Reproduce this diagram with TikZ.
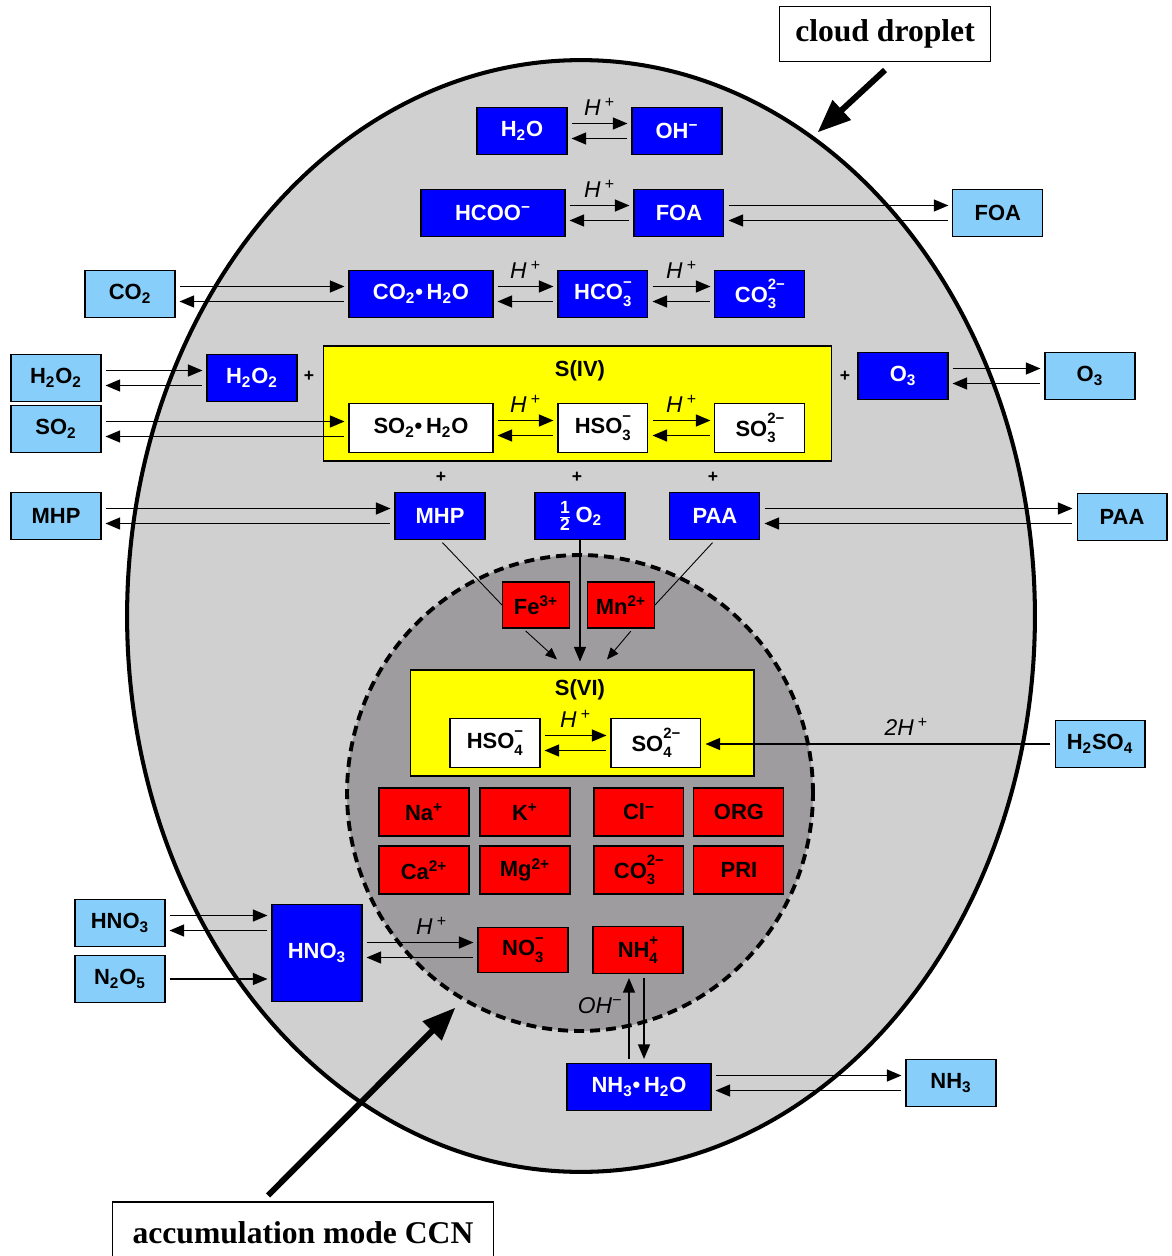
\documentclass[tikz,border=0pt]{standalone}
\usepackage{fontspec}
\setmainfont{Liberation Sans}
\newfontfamily\labelserif{Liberation Serif}
\usepackage{xcolor}
\usepackage{tikz}
\usetikzlibrary{positioning}
\usetikzlibrary{shapes,arrows}

\definecolor{aqblue}{RGB}{0,0,255}
\definecolor{gasblue}{RGB}{135,206,250}
\definecolor{ccnred}{RGB}{255,0,0}
\definecolor{sulfyellow}{RGB}{255,255,0}
\definecolor{dropgray}{RGB}{208,208,208}
\definecolor{coregray}{RGB}{158,156,158}

\newcommand{\boxfont}{\fontsize{12.5}{14}\selectfont\bfseries}
\newcommand{\chion}[2]{\rlap{\raisebox{-0.55ex}{\fontsize{8.5}{9}\selectfont #1}}\raisebox{1.05ex}{\fontsize{8.5}{9}\selectfont #2}}
\newcommand{\hplus}{\textit{H}\,\textsuperscript{+}}
\newcommand{\halfo}{$\frac{\mbox{\fontsize{10}{10}\selectfont 1}}{\mbox{\fontsize{10}{10}\selectfont 2}}$\,}

\tikzset{%
  box/.style      = {draw, rectangle, line width=0.6pt, inner sep=0pt,
    minimum width=1.8cm, minimum height=0.94cm, font=\boxfont},
  aq/.style       = {box, fill=aqblue, text=white}, % in the droplet
  gas/.style      = {box, fill=gasblue}, % gas phase
  ccn/.style      = {box, fill=ccnred, minimum height=0.96cm}, % in the particle
  ion/.style      = {box, fill=white, minimum height=0.98cm}, % sulphur species
  wide/.style     = {minimum width=2.88cm},
  sbox/.style     = {draw, rectangle, line width=0.6pt, fill=sulfyellow},
  plus/.style     = {font=\bfseries\fontsize{10}{10}\selectfont},
  hlab/.style     = {above, yshift=1pt, font=\fontsize{13}{14}\selectfont\itshape},
  fwd/.style      = {->, shorten <=2.3pt, shorten >=2.3pt,
    transform canvas={yshift=0.15cm}},
  bwd/.style      = {<-, shorten <=2.3pt, shorten >=2.3pt,
    transform canvas={yshift=-0.15cm}},
  one/.style      = {->, shorten <=2.3pt, shorten >=2.3pt},
  cat/.style      = {line width=0.5pt, shorten <=2pt},
  drop/.style     = {draw, fill=dropgray, line width=2.3pt},
  core/.style     = {draw, fill=coregray, line width=2.2pt,
    dash pattern=on 0.2cm off 0.12cm},
  callout/.style  = {draw, rectangle, line width=0.6pt, fill=white, inner sep=0pt,
    font=\labelserif\bfseries\fontsize{18}{20}\selectfont},
  bigarrow/.style = {->, line width=3.4pt}
}

\begin{document}
\begin{tikzpicture}[x=0.02cm, y=-0.02cm, line width=0.9pt, >=triangle 45]

  \useasboundingbox (0,0) rectangle (1171,1256);

  % droplet and particle
  \draw[drop] (581,616) ellipse (9.08cm and 11.12cm);
  \draw[core] (580,793) ellipse (4.66cm and 4.76cm);

  % sulphur groups
  \draw node at (577.5,403.5) [sbox, minimum width=10.18cm, minimum height=2.3cm] (siv) {};
  \draw node at (580,371) [font=\boxfont] (sivlab) {S(IV)};
  \draw node at (582,723) [sbox, minimum width=6.88cm, minimum height=2.12cm] (svi) {};
  \draw node at (580,690) [font=\boxfont] (svilab) {S(VI)};

  \draw node at (522,131) [aq] (h2o) {H\textsubscript{2}O};
  \draw node [aq, right of=h2o, node distance=3.1cm] (oh) {OH\textsuperscript{−}};

  \draw node at (493,213) [aq, wide] (hcoo) {HCOO\textsuperscript{−}};
  \draw node [aq, right of=hcoo, node distance=3.72cm] (foa) {FOA};
  \draw node [gas, right of=foa, node distance=6.38cm] (foag) {FOA};

  \draw node at (130,294) [gas] (co2g) {CO\textsubscript{2}};
  \draw node at (421,294) [aq, wide] (co2aq) {CO\textsubscript{2}•\,H\textsubscript{2}O};
  \draw node [aq, right of=co2aq, node distance=3.64cm] (hco3) {HCO\chion{3}{−}};
  \draw node [aq, right of=hco3, node distance=3.14cm] (co3) {CO\chion{3}{2−}};

  \draw node at (56,378) [gas] (h2o2g) {H\textsubscript{2}O\textsubscript{2}};
  \draw node at (252,378) [aq] (h2o2) {H\textsubscript{2}O\textsubscript{2}};
  \draw node at (903,376) [aq] (o3) {O\textsubscript{3}};
  \draw node [gas, right of=o3, node distance=3.74cm] (o3g) {O\textsubscript{3}};

  \draw node at (56,429) [gas] (so2g) {SO\textsubscript{2}};
  \draw node at (421,428) [ion, wide] (so2aq) {SO\textsubscript{2}•\,H\textsubscript{2}O};
  \draw node [ion, right of=so2aq, node distance=3.64cm] (hso3) {HSO\chion{3}{−}};
  \draw node [ion, right of=hso3, node distance=3.14cm] (so3) {SO\chion{3}{2−}};

  \draw node at (56,516) [gas] (mhpg) {MHP};
  \draw node at (440,516) [aq] (mhp) {MHP};
  \draw node [aq, right of=mhp, node distance=2.8cm] (ox) {\halfo O\textsubscript{2}};
  \draw node [aq, right of=ox, node distance=2.7cm] (paa) {PAA};
  \draw node at (1122,517) [gas] (paag) {PAA};

  \draw node at (309,376) [plus] (plusa) {+};
  \draw node at (845,376) [plus] (plusb) {+};
  \draw node at (441,477) [plus] (plusc) {+};
  \draw node at (577,477) [plus] (plusd) {+};
  \draw node at (713,477) [plus] (pluse) {+};

  % particle
  \draw node at (536,605) [ccn, minimum width=1.34cm, minimum height=0.92cm] (fe) {Fe\textsuperscript{3+}};
  \draw node [ccn, minimum width=1.34cm, minimum height=0.92cm, right of=fe, node distance=1.7cm] (mn) {Mn\textsuperscript{2+}};

  \draw node at (495,743) [ion] (hso4) {HSO\chion{4}{−}};
  \draw node [ion, right of=hso4, node distance=3.22cm] (so4) {SO\chion{4}{2−}};
  \draw node at (1100,744) [gas] (h2so4g) {H\textsubscript{2}SO\textsubscript{4}};

  \draw node at (424,812) [ccn] (na) {Na\textsuperscript{+}};
  \draw node [ccn, right of=na, node distance=2.02cm] (k) {K\textsuperscript{+}};
  \draw node [ccn, right of=k, node distance=2.28cm] (cl) {Cl\textsuperscript{−}};
  \draw node [ccn, right of=cl, node distance=2cm] (org) {ORG};
  \draw node [ccn, below of=na, node distance=1.16cm] (ca) {Ca\textsuperscript{2+}};
  \draw node [ccn, below of=k, node distance=1.16cm] (mg) {Mg\textsuperscript{2+}};
  \draw node [ccn, below of=cl, node distance=1.16cm] (co3p) {CO\chion{3}{2−}};
  \draw node [ccn, below of=org, node distance=1.16cm] (pri) {PRI};

  \draw node at (120,923) [gas] (hno3g) {HNO\textsubscript{3}};
  \draw node [gas, below of=hno3g, node distance=1.12cm] (n2o5g) {N\textsubscript{2}O\textsubscript{5}};
  \draw node at (317,953) [aq, minimum height=1.94cm] (hno3) {HNO\textsubscript{3}};
  \draw node at (523,950) [ccn, minimum height=0.9cm] (no3) {NO\chion{3}{−}};
  \draw node [ccn, minimum height=0.94cm, right of=no3, node distance=2.3cm] (nh4) {NH\chion{4}{+}};
  \draw node at (639,1087) [aq, wide] (nh3aq) {NH\textsubscript{3}•\,H\textsubscript{2}O};
  \draw node at (951,1083) [gas] (nh3g) {NH\textsubscript{3}};

  \draw node at (885,34) [callout, minimum width=4.22cm, minimum height=1.1cm] (cloud) {cloud droplet};
  \draw node at (303,1233) [callout, minimum width=7.64cm, minimum height=1.24cm] (accum) {accumulation mode CCN};

  % equilibria
  \draw[fwd] (h2o) -- node[hlab] {\hplus} (oh);
  \draw[bwd] (h2o) -- (oh);
  \draw[fwd] (hcoo) -- node[hlab] {\hplus} (foa);
  \draw[bwd] (hcoo) -- (foa);
  \draw[fwd] (foa) -- (foa -| foag.west);
  \draw[bwd] (foa) -- (foa -| foag.west);
  \draw[fwd] (co2g) -- (co2g -| co2aq.west);
  \draw[bwd] (co2g) -- (co2g -| co2aq.west);
  \draw[fwd] (co2aq) -- node[hlab] {\hplus} (hco3);
  \draw[bwd] (co2aq) -- (hco3);
  \draw[fwd] (hco3) -- node[hlab] {\hplus} (co3);
  \draw[bwd] (hco3) -- (co3);
  \draw[fwd] (h2o2g) -- (h2o2);
  \draw[bwd] (h2o2g) -- (h2o2);
  \draw[fwd] (so2g) -- (so2g -| so2aq.west);
  \draw[bwd] (so2g) -- (so2g -| so2aq.west);
  \draw[fwd] (so2aq) -- node[hlab] {\hplus} (hso3);
  \draw[bwd] (so2aq) -- (hso3);
  \draw[fwd] (hso3) -- node[hlab] {\hplus} (so3);
  \draw[bwd] (hso3) -- (so3);
  \draw[fwd] (o3) -- (o3g);
  \draw[bwd] (o3) -- (o3g);
  \draw[fwd] (mhpg) -- (mhpg -| mhp.west);
  \draw[bwd] (mhpg) -- (mhpg -| mhp.west);
  \draw[fwd] (paa) -- (paa -| paag.west);
  \draw[bwd] (paa) -- (paa -| paag.west);
  \draw[fwd] (hso4) -- node[hlab] {\hplus} (so4);
  \draw[bwd] (hso4) -- (so4);
  \draw[one] (h2so4g) -- node[hlab, pos=0.42] {2\textit{H}\,\textsuperscript{+}} (h2so4g -| so4.east);
  \draw[fwd] (hno3g) -- (hno3g -| hno3.west);
  \draw[bwd] (hno3g) -- (hno3g -| hno3.west);
  \draw[one] (n2o5g) -- (n2o5g -| hno3.west);
  \draw[fwd] (no3 -| hno3.east) -- node[hlab, pos=0.6] {\hplus} (no3);
  \draw[bwd] (no3 -| hno3.east) -- (no3);
  \draw[one] ([xshift=-0.2cm]nh3aq.north) -- node[left, pos=0.65, font=\fontsize{13}{14}\selectfont\itshape] {OH\textsuperscript{−}} ([xshift=-0.2cm]nh3aq.north |- nh4.south);
  \draw[one, <-] ([xshift=0.1cm]nh3aq.north) -- ([xshift=0.1cm]nh3aq.north |- nh4.south);
  \draw[fwd] (nh3g -| nh3aq.east) -- (nh3g);
  \draw[bwd] (nh3g -| nh3aq.east) -- (nh3g);

  % oxidation in the particle
  \draw[cat] (mhp.south) -- (fe.west);
  \draw[cat] (paa.south) -- (mn.east);
  \draw[cat, ->] ([xshift=-0.26cm]fe.south) -- ([xshift=-0.5cm,yshift=0.2cm]svi.north);
  \draw[cat, ->] ([xshift=0.24cm]mn.south) -- ([xshift=0.5cm,yshift=0.2cm]svi.north);
  \draw[->] (ox.south) -- ([yshift=0.16cm]svi.north -| ox.south);

  \coordinate (droptip) at (818,132);
  \coordinate (ccntip) at (455,1008);
  \draw[bigarrow] ([yshift=-0.16cm]cloud.south) -- (droptip);
  \draw[bigarrow] ([xshift=-0.7cm,yshift=0.12cm]accum.north) -- (ccntip);

\end{tikzpicture}
\end{document}
